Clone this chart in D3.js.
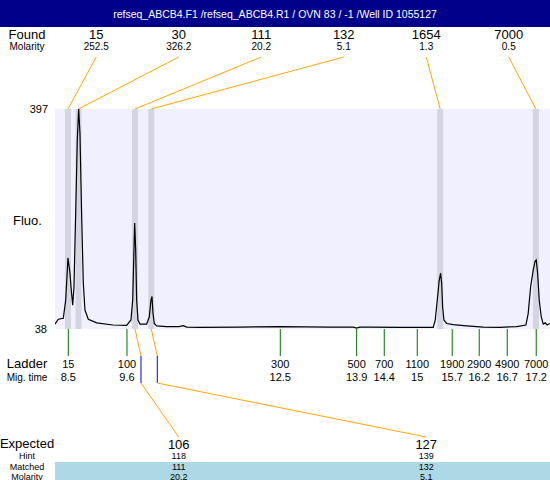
<!DOCTYPE html>
<html>
<head>
<meta charset="utf-8">
<script src="https://cdn.jsdelivr.net/npm/d3@7"></script>
<style>
body { margin: 0; background: #fff; }
text { font-family: "Liberation Sans", Arial, sans-serif; fill: #000; }
</style>
</head>
<body>
<svg id="chart" width="550" height="480"></svg>
<script>
// header
const title = "refseq_ABCB4.F1 /refseq_ABCB4.R1 / OVN 83 / -1 /Well ID 1055127";

// found peaks
const foundSize = ["15", "30", "111", "132", "1654", "7000"];
const foundMolarity = ["252.5", "326.2", "20.2", "5.1", "1.3", "0.5"];
const foundTime = [8.494, 8.690, 9.740, 10.043, 15.414, 17.193];

// ladder
const ladderSize = ["15", "100", "300", "500", "700", "1100", "1900", "2900", "4900", "7000"];
const ladderTimeLabel = ["8.5", "9.6", "12.5", "13.9", "14.4", "15", "15.7", "16.2", "16.7", "17.2"];
const ladderTime = [8.5, 9.591, 12.441, 13.861, 14.374, 14.987, 15.637, 16.139, 16.660, 17.199];

// expected
const expectedSize = ["106", "127"];
const expectedHint = ["118", "139"];
const matchedSize = ["111", "132"];
const matchedMolarity = ["20.2", "5.1"];
const matchedPeak = [2, 3]; // index into found peaks

// trace (migration time, fluorescence)
const traceTime = [8.253, 8.314, 8.407, 8.452, 8.494, 8.532, 8.556, 8.582, 8.606, 8.643, 8.667, 8.693, 8.717,
  8.749, 8.779, 8.810, 8.872, 9.028, 9.331, 9.585, 9.665, 9.697, 9.721, 9.734, 9.753, 9.771, 9.796, 9.833,
  9.957, 10.006, 10.037, 10.056, 10.074, 10.099, 10.143, 10.329, 10.560, 10.638, 10.701, 10.948, 11.69,
  12.435, 13.365, 13.80, 13.861, 13.92, 14.108, 14.666, 15.284, 15.322, 15.359, 15.396, 15.422, 15.441,
  15.459, 15.483, 15.533, 15.656, 15.905, 16.214, 16.524, 16.835, 17.007, 17.050, 17.095, 17.143, 17.175,
  17.199, 17.225, 17.255, 17.292, 17.329, 17.366, 17.403, 17.453];
const traceFluo = [46, 54, 55.5, 85, 154, 129, 101, 77, 107, 248, 346, 397, 358,
  221, 113, 69, 54, 48, 44.5, 44, 52.7, 85, 167, 211, 167, 85, 52.7, 46,
  46, 58, 85, 91, 64, 47, 43, 42, 42, 43.5, 41, 40.7, 41,
  42, 41, 41, 39.5, 41, 41, 40.7, 40.7, 52.7, 85, 118, 129, 112.5,
  74, 52.7, 47, 45, 43, 41, 40.7, 42, 44.5, 63.6, 107, 134, 148,
  150.6, 129, 85, 58, 46, 48, 44.5, 47];

const fluoMin = 38, fluoMax = 397;

const svg = d3.select("#chart");
const W = 550, plotL = 55, plotT = 109, plotB = 329;

const x = d3.scaleLinear().domain([8.253, 17.455]).range([plotL, W]);
const y = d3.scaleLinear().domain([fluoMin, fluoMax]).range([plotB, plotT]);

// header bar
svg.append("rect").attr("x", 0).attr("y", 0).attr("width", W).attr("height", 27).attr("fill", "#00008b");
svg.append("text").attr("x", 275).attr("y", 18).attr("text-anchor", "middle")
  .style("font-size", "10.5px").style("fill", "#fff").text(title);

// left labels
const leftLabel = (txt, yy, size) => svg.append("text").attr("x", 27).attr("y", yy)
  .attr("text-anchor", "middle").style("font-size", size).text(txt);
leftLabel("Found", 39, "13px");
leftLabel("Molarity", 50, "10px");
leftLabel("Ladder", 368, "13px");
leftLabel("Mig. time", 381, "10px");
leftLabel("Expected", 448, "13px");
leftLabel("Hint", 459, "9px");

// matched band
svg.append("rect").attr("x", plotL).attr("y", 462).attr("width", W - plotL).attr("height", 18).attr("fill", "#add8e6");
leftLabel("Matched", 469.5, "9px");
leftLabel("Molarity", 479.5, "9px");

// y labels
svg.append("text").attr("x", 48).attr("y", y(fluoMax) + 4).attr("text-anchor", "end").style("font-size", "11px").text(fluoMax);
svg.append("text").attr("x", 47).attr("y", y(fluoMin) + 4).attr("text-anchor", "end").style("font-size", "11px").text(fluoMin);
svg.append("text").attr("x", 13).attr("y", 225).style("font-size", "13px").text("Fluo.");

// plot background
svg.append("rect").attr("x", plotL).attr("y", plotT).attr("width", W - plotL).attr("height", plotB - plotT).attr("fill", "#f0f0ff");

// peak bands
svg.selectAll(".band").data(foundTime).join("rect")
  .attr("class", "band")
  .attr("x", d => x(d) - 3).attr("y", plotT).attr("width", 6).attr("height", plotB - plotT)
  .attr("fill", "#d4d4e2");

// found columns
const colW = (W - plotL) / foundSize.length;
const foundX = (d, i) => plotL + colW * (i + 0.5);
svg.selectAll(".fsize").data(foundSize).join("text")
  .attr("x", foundX).attr("y", 39).attr("text-anchor", "middle").style("font-size", "13px").text(d => d);
svg.selectAll(".fmol").data(foundMolarity).join("text")
  .attr("x", foundX).attr("y", 50).attr("text-anchor", "middle").style("font-size", "10px").text(d => d);
svg.selectAll(".flink").data(foundTime).join("line")
  .attr("x1", (d, i) => foundX(d, i)).attr("y1", 57)
  .attr("x2", d => x(d)).attr("y2", plotT)
  .attr("stroke", "#ffa500").attr("stroke-width", 1);

// trace
const trace = traceTime.map((t, i) => [t, traceFluo[i]]);
svg.append("clipPath").attr("id", "clip").append("rect")
  .attr("x", plotL).attr("y", plotT - 1).attr("width", W - plotL).attr("height", plotB - plotT + 2);
svg.append("path").datum(trace)
  .attr("clip-path", "url(#clip)")
  .attr("d", d3.line().x(d => x(d[0])).y(d => y(d[1])))
  .attr("fill", "none").attr("stroke", "#000").attr("stroke-width", 1.2);

// ladder ticks
svg.selectAll(".ltick").data(ladderTime).join("line")
  .attr("x1", d => x(d)).attr("x2", d => x(d))
  .attr("y1", plotB).attr("y2", 356)
  .attr("stroke", "#007000").attr("stroke-width", 1);
svg.selectAll(".lsize").data(ladderSize).join("text")
  .attr("x", (d, i) => x(ladderTime[i])).attr("y", 368).attr("text-anchor", "middle")
  .style("font-size", "11px").text(d => d);
svg.selectAll(".ltime").data(ladderTimeLabel).join("text")
  .attr("x", (d, i) => x(ladderTime[i])).attr("y", 381).attr("text-anchor", "middle")
  .style("font-size", "11px").text(d => d);

// expected columns
const expW = (W - plotL) / expectedSize.length;
const expX = i => plotL + expW * (i + 0.5);
const expRow = (arr, yy, size) => svg.selectAll(null).data(arr).join("text")
  .attr("x", (d, i) => expX(i)).attr("y", yy).attr("text-anchor", "middle").style("font-size", size).text(d => d);
expRow(expectedSize, 449, "13px");
expRow(expectedHint, 459, "9px");
expRow(matchedSize, 469.5, "9px");
expRow(matchedMolarity, 479.5, "9px");

// links from matched peaks to expected
matchedPeak.forEach((p, i) => {
  const px = x(foundTime[p]);
  const g = svg.append("g");
  g.append("polyline")
    .attr("points", [[px, plotB], [px + 6, 356]].join(" "))
    .attr("fill", "none").attr("stroke", "#ffa500");
  g.append("line").attr("x1", px + 6).attr("x2", px + 6).attr("y1", 356).attr("y2", 383)
    .attr("stroke", "#0000dd");
  g.append("line").attr("x1", px + 6).attr("y1", 383).attr("x2", expX(i)).attr("y2", 437)
    .attr("stroke", "#ffa500");
});
</script>
</body>
</html>
